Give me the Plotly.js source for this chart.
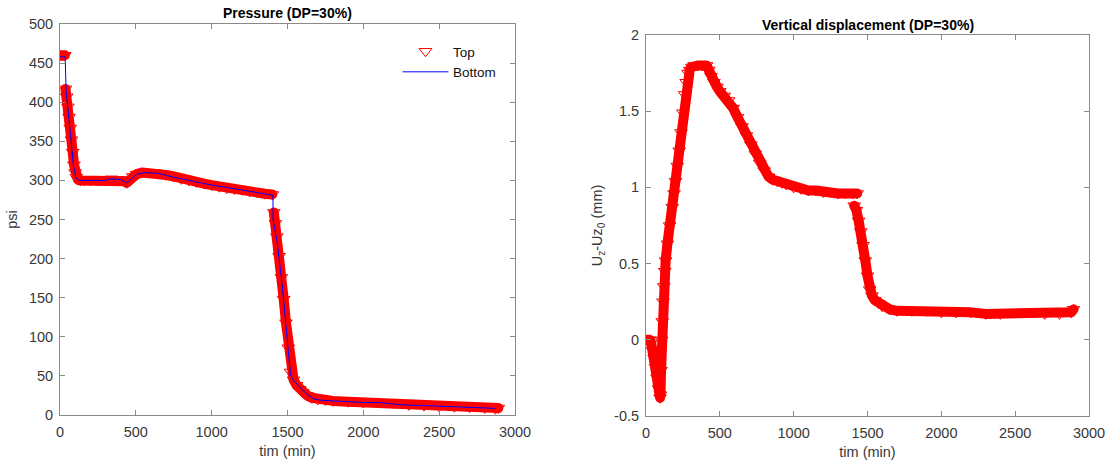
<!DOCTYPE html>
<html>
<head>
<meta charset="utf-8">
<script src="https://cdn.plot.ly/plotly-3.0.1.min.js"></script>
<style>
html,body{margin:0;padding:0;background:#fff;}
#chart{width:1109px;height:463px;}
path.js-line{stroke-linejoin:round;stroke-linecap:round;}
</style>
</head>
<body>
<div id="chart"></div>
<script>
// ---------- Pressure (left) : Top sensor (red triangles) ----------
const timeTop = [5, 15, 25, 32, null,
  36, 44, 52, 60, 68, 76, 84, 92, 100, 108, 118, 135, 160, 200, 250, 300, 340, 380, 420, 440,
  460, 480, 505, 540, 580, 620, 660, 700, 750, 800, 850, 900, 950, 1000, 1050, 1100, 1150, 1200,
  1250, 1300, 1350, 1400, null,
  1410, 1420, 1430, 1445, 1460, 1475, 1490, 1505, 1520, 1540, 1560, 1580, 1600, 1630, 1660, 1700,
  1750, 1800, 1900, 2000, 2100, 2200, 2300, 2400, 2500, 2600, 2700, 2800, 2870, 2890];
const pressureTop = [460, 460, 460, 460, null,
  417, 407, 394, 381, 367, 352, 336, 320, 310, 304, 301, 300, 300, 300, 300, 300, 302, 301, 299, 297,
  301, 305, 308, 310, 310, 310, 309, 307, 305, 302, 300, 298, 296, 294, 292, 290, 289, 288,
  286, 285, 283, 282, null,
  259, 245, 228, 203, 176, 148, 118, 86, 55, 45, 38, 33, 29, 25, 22, 20,
  19, 18, 17, 16, 16, 15, 13, 12, 11, 10.5, 10, 9, 8, 9];

// ---------- Pressure (left) : Bottom sensor (blue line) ----------
const timeBottom = [2, 34, 40, 55, 70, 76, 82, 84, 86, 95, 105, 125, 200, 300, 330, 400, 420, 440,
  470, 505, 560, 650, 750, 850, 1000, 1100, 1200, 1300, 1404, 1405, 1430, 1464, 1520, 1545, 1577,
  1620, 1668, 1713, 1800, 1900, 2000, 2100, 2258, 2400, 2553, 2700, 2870];
const pressureBottom = [458, 458, 416, 389, 362, 345, 328, 336, 322, 310, 303, 300, 300, 300, 302, 301, 299, 297,
  302, 308, 310, 309, 304, 300, 294, 291, 288, 285, 281, 249, 224, 168, 51, 43, 36,
  28, 21, 19, 18, 17, 16, 16, 13, 12, 11, 10, 8.5];

// ---------- Vertical displacement (right) ----------
const timeDisp = [5, 15, 25, 35, 45, 55, 65, 75, 85, 95, 98, 102, 106, 110, 115, 120, 127, 133, 145, 160,
  178, 190, 200, 212, 225, 237, 250, 261, 272, 285, 296, 310, 325, 350, 380, 410, 425, 440, 460, 480,
  500, 530, 560, 590, 620, 650, 680, 710, 740, 770, 800, 830, 860, 890, 920, 950, 1000, 1050, 1100,
  1150, 1200, 1250, 1300, 1350, 1400, 1430, null,
  1410, 1425, 1440, 1455, 1470, 1485, 1500, 1515, 1530, 1550, 1575, 1600, 1650, 1700, 1800, 1900,
  2000, 2100, 2200, 2300, 2400, 2500, 2600, 2700, 2800, 2880, 2895];
const dispValues = [0, 0, 0, -0.02, -0.07, -0.12, -0.18, -0.25, -0.32, -0.38, -0.36, -0.2, 0, 0.12, 0.25, 0.35, 0.45, 0.52, 0.63, 0.75,
  0.87, 0.96, 1.04, 1.14, 1.24, 1.36, 1.49, 1.61, 1.69, 1.75, 1.77, 1.79, 1.80, 1.80, 1.80, 1.80, 1.77, 1.73, 1.69, 1.66,
  1.63, 1.60, 1.57, 1.52, 1.46, 1.40, 1.34, 1.28, 1.22, 1.16, 1.11, 1.07, 1.05, 1.04, 1.03, 1.02, 1.00, 0.99, 0.98,
  0.98, 0.97, 0.97, 0.96, 0.96, 0.96, 0.96, null,
  0.88, 0.85, 0.78, 0.71, 0.62, 0.52, 0.42, 0.33, 0.29, 0.26, 0.24, 0.22, 0.20, 0.19, 0.19, 0.19,
  0.18, 0.18, 0.18, 0.17, 0.17, 0.18, 0.18, 0.17, 0.17, 0.18, 0.20];

// ---------- Ticks ----------
const timeTicks = [0, 500, 1000, 1500, 2000, 2500, 3000];
const pressureTicks = [0, 50, 100, 150, 200, 250, 300, 350, 400, 450, 500];
const dispTickVals = [-0.5, 0, 0.5, 1, 1.5, 2];
const dispTickText = ['-0.5', '0', '0.5', '1', '1.5', '2'];

const FONT = 'Liberation Sans, Arial, Helvetica, sans-serif';
const TXT = '#383838';
const AX = '#8a8a8a';
const RED = '#ff0000';
const BLUE = '#0000ff';

const markerStyle = {symbol: 'triangle-down-open', size: 11, color: RED, line: {color: RED, width: 1}};

const traces = [
  {x: timeTop, y: pressureTop, xaxis: 'x', yaxis: 'y', type: 'scatter', mode: 'lines',
   line: {color: RED, width: 10}, connectgaps: false, showlegend: false, hoverinfo: 'skip'},
  {x: timeTop, y: pressureTop, xaxis: 'x', yaxis: 'y', type: 'scatter', mode: 'markers',
   name: 'Top', marker: markerStyle},
  {x: timeBottom, y: pressureBottom, xaxis: 'x', yaxis: 'y', type: 'scatter', mode: 'lines',
   name: 'Bottom', line: {color: BLUE, width: 1}},
  {x: timeDisp, y: dispValues, xaxis: 'x2', yaxis: 'y2', type: 'scatter', mode: 'lines',
   line: {color: RED, width: 10}, connectgaps: false, showlegend: false, hoverinfo: 'skip'},
  {x: timeDisp, y: dispValues, xaxis: 'x2', yaxis: 'y2', type: 'scatter', mode: 'markers',
   showlegend: false, marker: markerStyle}
];

function axisBase() {
  return {
    showline: true, linecolor: AX, linewidth: 1, mirror: 'ticks',
    ticks: 'inside', ticklen: 5, tickwidth: 1, tickcolor: AX,
    showgrid: false, zeroline: false, automargin: false,
    tickfont: {family: FONT, size: 14.5, color: TXT}
  };
}

const xa = Object.assign(axisBase(), {domain: [60/1109, 515/1109], range: [0, 3000], tickvals: timeTicks,
  ticklabelstandoff: 4,
  anchor: 'y', title: {text: 'tim (min)', font: {family: FONT, size: 14.5, color: TXT}, standoff: 6}});
const ya = Object.assign(axisBase(), {domain: [1 - 415/463, 1 - 24/463], range: [0, 500], tickvals: pressureTicks,
  ticklabelstandoff: 3,
  anchor: 'x', title: {text: 'psi', font: {family: FONT, size: 14.5, color: TXT}, standoff: 7}});
const xa2 = Object.assign(axisBase(), {domain: [646/1109, 1089/1109], range: [0, 3000], tickvals: timeTicks,
  ticklabelstandoff: 4,
  anchor: 'y2', title: {text: 'tim (min)', font: {family: FONT, size: 14.5, color: TXT}, standoff: 6}});
const ya2 = Object.assign(axisBase(), {domain: [1 - 416/463, 1 - 35/463], range: [-0.5, 2],
  tickvals: dispTickVals, ticktext: dispTickText, ticklabelstandoff: 3,
  anchor: 'x2', title: {text: 'U<sub>z</sub>-Uz<sub>0</sub> (mm)', font: {family: FONT, size: 14.5, color: TXT}, standoff: 8}});

const layout = {
  width: 1109, height: 463, autosize: false,
  margin: {l: 0, r: 0, t: 0, b: 0},
  paper_bgcolor: '#ffffff', plot_bgcolor: '#ffffff',
  font: {family: FONT, color: TXT},
  xaxis: xa, yaxis: ya, xaxis2: xa2, yaxis2: ya2,
  showlegend: true,
  legend: {x: 398/1109, y: 1 - 36/463, xanchor: 'left', yanchor: 'top', bgcolor: 'rgba(0,0,0,0)',
    borderwidth: 0, itemwidth: 45, font: {family: FONT, size: 13.5, color: '#111111'}, tracegroupgap: 0},
  annotations: [
    {text: '<b>Pressure (DP=30%)</b>', xref: 'paper', yref: 'paper', x: 287.5/1109, y: 1 - 13/463,
     xanchor: 'center', yanchor: 'middle', showarrow: false, font: {family: FONT, size: 14, color: '#000000'}},
    {text: '<b>Vertical displacement (DP=30%)</b>', xref: 'paper', yref: 'paper', x: 867.5/1109, y: 1 - 25/463,
     xanchor: 'center', yanchor: 'middle', showarrow: false, font: {family: FONT, size: 14, color: '#000000'}}
  ]
};

Plotly.newPlot('chart', traces, layout, {displayModeBar: false, staticPlot: true});
</script>
</body>
</html>
